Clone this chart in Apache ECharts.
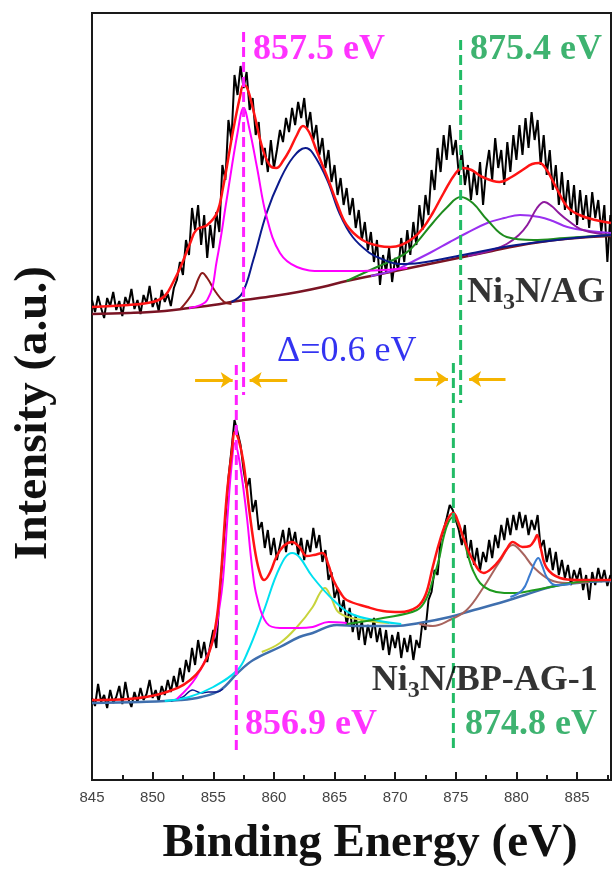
<!DOCTYPE html>
<html><head><meta charset="utf-8">
<script src="https://cdn.jsdelivr.net/npm/echarts@6/dist/echarts.min.js"></script>
<style>html,body{margin:0;padding:0;background:#fff}#c{width:613px;height:870px}</style>
</head><body><div id="c"></div>
<script>
// Sampling grid of the raw spectra (binding energy, eV)
const E_START = 845, E_STEP = 0.25;
// Raw XPS counts (a.u.), Ni3N/AG (upper trace)
const topRaw = [480,468,484,472,462,482,474,488,470,479,464,483,475,491,471,480,466,485,477,494,473,482,469,490,478,486,474,492,
 500,518,505,540,525,572,550,575,535,565,522,555,532,568,548,
 615,600,660,640,705,685,714,692,708,670,682,645,658,615,632,608,640,
 612,630,650,638,662,648,672,655,678,662,682,652,668,640,655,625,642,612,630,598,
 615,585,602,575,592,565,582,552,570,540,558,530,548,518,540,495,525,508,532,498,
 522,510,542,518,550,525,558,535,575,550,585,565,610,590,632,608,645,620,655,625,
 640,605,630,595,615,580,608,585,618,575,610,630,600,642,612,630,595,638,608,645,
 620,655,625,662,632,668,640,660,615,645,605,630,590,615,575,608,570,600,565,595,
 555,590,560,585,552,588,562,580,548,575,518,565];
// Raw XPS counts (a.u.), Ni3N/BP-AG-1 (lower trace)
const botRaw = [82,74,96,78,85,72,90,77,83,94,76,98,81,73,88,78,92,80,86,100,82,90,79,94,85,100,88,104,
 92,112,98,120,108,132,115,140,122,138,118,135,150,132,180,
 220,260,302,330,360,348,335,310,292,302,268,280,250,258,232,250,225,
 242,220,235,250,228,252,235,248,225,242,220,240,228,252,232,245,218,230,200,208,
 182,192,168,180,155,172,148,165,140,160,135,155,142,162,138,152,130,150,125,145,
 132,148,122,142,128,145,120,140,132,158,150,180,188,210,205,240,250,262,275,270,
 260,250,235,255,222,240,215,232,210,228,218,240,222,245,232,255,240,262,245,265,
 250,268,252,265,245,260,250,265,232,240,218,232,210,228,205,220,202,215,195,210,
 200,212,190,205,180,208,195,212,198,210,194,205];

// Fitted curves, Ni3N/AG: [E, intensity]
const topEnvelope = [[845,473],[848,475],[850,478],[851,484],[851.7,498],[852.3,513],[853.1,537],[853.6,550],[854.5,555],[855.3,567],[855.8,592],[856.6,647],[857.2,683],[857.5,695],[857.8,692],[858.3,670],[859.1,630],[859.7,614],[860.2,612],[860.8,620],[861.3,630],[861.9,645],[862.4,654],[862.9,648],[863.5,630],[864.4,603],[865.2,577],[866,555],[867.3,540],[868.7,534],[869.6,533],[870.5,535],[871.5,542],[872.3,552],[873.1,567],[874,587],[875,607],[875.6,612],[876.3,610],[877.2,603],[878.6,598],[879.6,603],[880.5,610],[881.3,616],[881.9,617],[882.5,610],[883.3,592],[884.2,573],[885.2,565],[886.5,560],[887.8,557]];
const topBackground = [[845,466],[848,467],[851,469],[853,472],[855,475],[857,479],[860,484],[862,488],[864,493],[866,499],[868,504],[870,509],[872,514],[874,519],[876,524],[878,529],[880,534],[882,538],[884,541],[886,543],[887.8,544]];
const topMaroon = [[852.3,471],[853.3,487],[853.8,502],[854.1,507],[854.5,502],[855.2,488],[855.9,478],[856.5,476]];
const topMagenta = [[853,472],[854.5,480],[855.3,520],[856.1,580],[857,647],[857.5,672],[858,650],[858.6,613],[859.4,563],[860.5,527],[861.9,513],[864,509],[867,509],[869,510],[871,512]];
const topNavy = [[856.5,478],[857.4,487],[858.3,520],[859.4,567],[860.5,600],[861.6,623],[862.6,632],[863.2,627],[864.4,600],[865.4,567],[866.5,543],[867.9,527],[868.7,522],[870.4,516],[872,517],[876,526],[880,535],[884,541],[887.8,545]];
const topGreen = [[866,499],[868.5,513],[870,521],[871.2,530],[873.1,557],[874.3,573],[875.4,583],[876.4,577],[877.6,560],[879.2,543],[881.4,540],[884,542],[887.8,545]];
const topViolet = [[868,504],[870,510],[871.2,517],[873,528],[874.5,538],[875.9,547],[877.6,557],[879,562],[880.3,565],[881.9,563],[883,559],[884.2,553],[886,549],[887.8,547]];
const topPurple = [[876,524],[878,530],[879.2,536],[880.2,545],[880.9,555],[881.7,572],[882.3,578],[882.9,574],[883.5,567],[884.2,560],[885.5,550],[887.8,545]];

// Fitted curves, Ni3N/BP-AG-1: [E, intensity]
const botEnvelope = [[845,80],[848,81],[850.9,87],[853.1,100],[854.5,123],[855.2,155],[855.6,200],[856.1,283],[856.5,325],[856.8,348],[857.1,340],[857.5,317],[858,267],[858.5,225],[858.9,205],[859.2,200],[859.7,208],[860.2,223],[860.8,234],[861.5,238],[862.1,233],[862.7,224],[863.3,225],[864,227],[864.5,215],[864.9,200],[865.5,187],[866,180],[867.7,173],[869,169],[870.4,168],[871.8,173],[872.5,185],[873.1,213],[873.7,240],[874.3,260],[874.8,267],[875.2,258],[875.6,243],[876.4,220],[877.3,207],[878,212],[878.6,220],[879.2,231],[879.7,238],[880.5,233],[881.1,234],[881.5,240],[881.7,245],[882,232],[882.5,212],[883.6,202],[885,200],[887.8,200]];
const botBackground = [[845,77],[849,78],[852.3,80],[854,83],[855.6,90],[857,107],[858.3,120],[860.5,133],[862.1,143],[863.2,147],[865.2,155],[867,154],[870,154],[872,157],[874.5,163],[876.5,170],[878.6,177],[880.7,185],[882.8,193],[885,197],[887.8,199]];
const botMagenta = [[852,81],[853.6,103],[855,140],[855.5,172],[855.8,200],[856.2,267],[856.5,313],[856.8,337],[857.1,323],[857.5,290],[857.8,260],[858.2,213],[858.6,183],[859.4,157],[860.5,152],[862,152],[863.2,153],[864.5,158],[866,157]];
const botCyan = [[851,79],[853,83],[855,93],[857,110],[857.8,127],[859.1,167],[860.5,213],[861.5,227],[862.1,223],[863.2,203],[864.9,180],[866.4,166],[868.7,159],[870.5,156]];
const botYellow = [[859,128],[860.5,137],[861.9,153],[863.2,173],[863.8,187],[864.2,192],[864.7,183],[865.4,167],[867.3,160],[869.5,157]];
const botGreen = [[866,156],[869,162],[871.8,170],[872.6,182],[873.1,200],[873.6,220],[874,243],[874.4,258],[874.8,263],[875.2,256],[875.6,243],[876,225],[876.4,210],[877,197],[877.8,190],[879,187],[880,187],[881.5,190],[882.8,193],[885,198],[887.8,200]];
const botBrown = [[872,156],[873.1,154],[874.5,160],[875.9,170],[877.3,193],[878.6,218],[879.7,235],[880.5,227],[881.4,213],[882.8,200],[884.2,197],[886,198]];
const botSteel = [[879.5,183],[880.5,190],[881.1,205],[881.5,217],[881.8,222],[882.1,215],[882.5,203],[883.2,195],[884.5,196]];
const botNavy = [[851.5,79],[852.5,83],[853.3,90],[854,87],[854.6,88],[855.3,88],[855.8,91]];

// Peak-position guides: [E, intensity from, intensity to]
const guideLines = [
  {e: 857.5, from: 748, to: 385, color: '#ff22ff'},
  {e: 875.4, from: 740, to: 377, color: '#22bb66'},
  {e: 856.9, from: 415, to: 30, color: '#ff22ff'},
  {e: 874.8, from: 417, to: 28, color: '#22bb66'}
];
// Shift arrows: [E start, E end, intensity]
const arrows = [[853.5, 856.6, 400], [861.1, 858.0, 400], [871.6, 874.35, 401], [879.1, 876.1, 401]];
// Text annotations: [E, intensity]
const annotations = [
  {pos: [858.28, 730], text: '857.5 eV', color: '#ff00ff', style: 'bold'},
  {pos: [876.17, 730], text: '875.4 eV', color: '#0ea04c', style: 'bold'},
  {pos: [857.62, 55], text: '856.9 eV', color: '#ff00ff', style: 'bold'},
  {pos: [875.76, 55], text: '874.8 eV', color: '#0ea04c', style: 'bold'},
  {pos: [860.26, 428], text: 'Δ=0.6 eV', color: '#0000ee', style: 'normal'},
  {pos: [875.92, 487], text: '{b|Ni}{s|3}{b|N/AG}', color: '#000', style: 'bold', rich: true},
  {pos: [868.08, 99], text: '{b|Ni}{s|3}{b|N/BP-AG-1}', color: '#000', style: 'bold', rich: true}
];

const SERIF = 'Liberation Serif, Times New Roman, serif';
function raw(arr) { return arr.map((v, i) => [E_START + i * E_STEP, v]); }
function curve(data, color, width, smooth) {
  return {type: 'line', data: data, symbol: 'none', showSymbol: false, smooth: smooth,
    lineStyle: {color: color, width: width}, silent: true, animation: false, z: 3};
}

const series = [
  curve(raw(topRaw), '#000', 2, false),
  curve(raw(botRaw), '#000', 2, false),
  curve(topBackground, '#7a1424', 2.5, 0.4),
  curve(topViolet, '#9a30f0', 2, 0.4),
  curve(topPurple, '#8e1a9e', 2, 0.4),
  curve(topGreen, '#1e8c1e', 2, 0.4),
  curve(topNavy, '#0b1a8c', 2, 0.4),
  curve(topMaroon, '#8b1a1a', 2, 0.4),
  curve(topMagenta, '#ff00ff', 2, 0.4),
  curve(topEnvelope, '#ff1414', 2.5, 0.4),
  curve(botBackground, '#3f6fae', 2.5, 0.4),
  curve(botNavy, '#0b1a8c', 1.5, 0.4),
  curve(botYellow, '#c8d43c', 2, 0.4),
  curve(botCyan, '#00e0f0', 2, 0.4),
  curve(botBrown, '#a8645e', 2, 0.4),
  curve(botGreen, '#1e9a1e', 2, 0.4),
  curve(botSteel, '#3c7cd0', 2, 0.4),
  curve(botMagenta, '#ff00ff', 2, 0.4),
  curve(botEnvelope, '#ff1414', 2.5, 0.4)
];
guideLines.forEach(g => {
  series.push({type: 'line', data: [[g.e, g.from], [g.e, g.to]], symbol: 'none', silent: true, animation: false, z: 5,
    lineStyle: {color: g.color, width: 3, type: [10, 5]}});
});
series.push({type: 'lines', coordinateSystem: 'cartesian2d', silent: true, animation: false, z: 6,
  symbol: ['none', 'arrow'], symbolSize: 12,
  lineStyle: {color: '#f5b400', width: 3, opacity: 1, curveness: 0},
  data: arrows.map(a => ({coords: [[a[0], a[2]], [a[1], a[2]]]}))});
annotations.forEach(a => {
  const base = {fontFamily: SERIF, fontWeight: a.style, fontSize: 36, color: a.color};
  series.push({type: 'scatter', data: [a.pos], symbolSize: 0, silent: true, animation: false, z: 7,
    label: Object.assign({show: true, position: 'right', distance: 0, formatter: a.text,
      rich: a.rich ? {b: Object.assign({}, base), s: Object.assign({}, base, {fontSize: 24, padding: [20, 0, 0, 0]})} : undefined
    }, base)});
});

const chart = echarts.init(document.getElementById('c'), null, {renderer: 'canvas'});
chart.setOption({
  animation: false,
  backgroundColor: '#fff',
  grid: {left: 92, right: 2, top: 13, bottom: 90, show: true, borderColor: '#1a1a1a', borderWidth: 2, outerBoundsMode: 'none', containLabel: false},
  xAxis: [
    {type: 'value', min: 845, max: 887.8, interval: 5, position: 'bottom', offset: 0,
      axisLine: {show: true, lineStyle: {color: '#1a1a1a', width: 2}},
      axisTick: {show: true, inside: true, length: 8, lineStyle: {color: '#1a1a1a', width: 2}},
      axisLabel: {show: true, margin: 10, color: '#444', fontSize: 15, fontFamily: 'Liberation Sans, Arial, sans-serif',
        formatter: v => (Math.abs(v / 5 - Math.round(v / 5)) < 1e-6 ? String(Math.round(v)) : '')},
      splitLine: {show: false},
      name: 'Binding Energy (eV)', nameLocation: 'middle', nameGap: 40,
      nameTextStyle: {fontFamily: SERIF, fontWeight: 'bold', fontSize: 47, color: '#111', padding: [0, 0, 0, 37]}},
    {type: 'value', min: 845, max: 887.8, interval: 2.5, position: 'bottom', offset: 0,
      axisLine: {show: false}, axisLabel: {show: false}, splitLine: {show: false},
      axisTick: {show: true, inside: true, length: 5, lineStyle: {color: '#1a1a1a', width: 2}}}
  ],
  yAxis: {type: 'value', min: 0, max: 767,
    axisLine: {show: false}, axisTick: {show: false}, axisLabel: {show: false}, splitLine: {show: false},
    name: 'Intensity (a.u.)', nameLocation: 'middle', nameGap: 35, nameRotate: 90,
    nameTextStyle: {fontFamily: SERIF, fontWeight: 'bold', fontSize: 47, color: '#111', padding: [0, 33, 0, 0]}},
  series: series
});
</script>
</body></html>
